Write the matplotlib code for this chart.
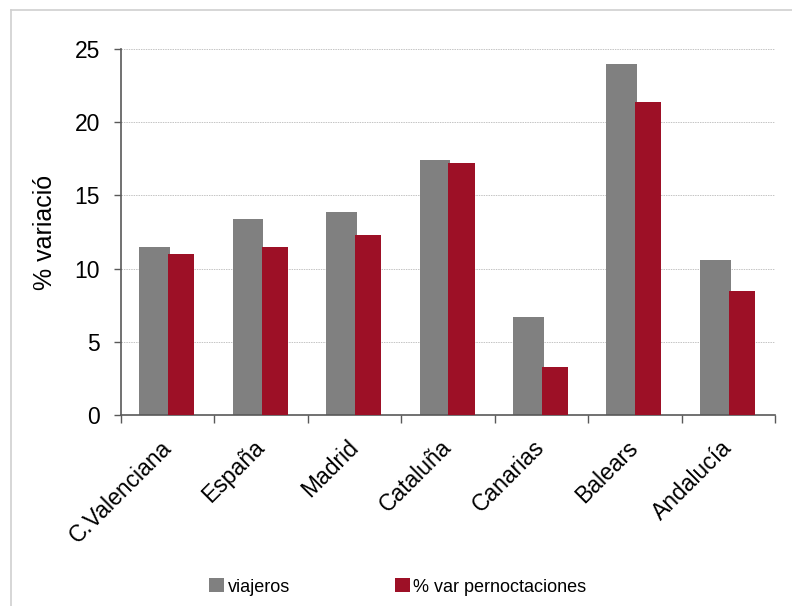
import matplotlib.pyplot as plt
import numpy as np
from matplotlib.patches import Patch
from matplotlib.lines import Line2D

plt.rcParams['font.family'] = ['Liberation Sans', 'DejaVu Sans']

categories = ['C.Valenciana', 'España', 'Madrid', 'Cataluña', 'Canarias', 'Balears', 'Andalucía']
viajeros = [11.5, 13.4, 13.9, 17.4, 6.7, 23.95, 10.6]
pernoctaciones = [11.0, 11.45, 12.3, 17.2, 3.3, 21.4, 8.5]

GREY = '#808080'
RED = '#9d1026'
AXC = '#595959'

fig = plt.figure(figsize=(7.92, 6.06), dpi=100)
ax = fig.add_axes([121 / 792, 1 - 415 / 606, 654 / 792, 366 / 606])

x = np.arange(len(categories))
ax.bar(x - 0.14, viajeros, width=0.33, color=GREY, zorder=2)
ax.bar(x + 0.145, pernoctaciones, width=0.28, color=RED, zorder=3)

ax.set_xlim(-0.5, len(categories) - 0.5)
ax.set_ylim(0, 25)
ax.set_yticks(np.arange(0, 26, 5))
ax.tick_params(axis='y', labelsize=16.5, length=5, width=1, color=AXC, pad=10)

ax.set_xticks(x)
ax.set_xticklabels(categories, rotation=45, ha='right', va='center',
                   rotation_mode='anchor', fontsize=16.5)
ax.tick_params(axis='x', which='major', length=0, pad=21)
ax.set_xticks(np.arange(-0.5, len(categories)), minor=True)
ax.tick_params(axis='x', which='minor', length=6, width=1, color=AXC)

ax.yaxis.grid(True, color='#c4c4c4', linestyle=(0, (1.5, 1)), linewidth=0.7)
ax.set_axisbelow(True)
for s in ['top', 'right']:
    ax.spines[s].set_visible(False)
for s in ['left', 'bottom']:
    ax.spines[s].set_color(AXC)
    ax.spines[s].set_linewidth(1.2)

ax.set_ylabel('% variació', fontsize=18, labelpad=13)

handles = [Patch(facecolor=GREY, label='viajeros'),
           Patch(facecolor=RED, label='% var pernoctaciones')]
fig.legend(handles=handles, loc='center', bbox_to_anchor=(398 / 792, 1 - 587 / 606),
           ncol=2, frameon=False, fontsize=13, handlelength=0.8, handleheight=0.8,
           handletextpad=0.2, columnspacing=5.85)

# outer chart border
fig.add_artist(Line2D([11 / 792, 1], [1 - 10 / 606] * 2, color='#d0d0d0', lw=1.2))
fig.add_artist(Line2D([11 / 792] * 2, [0, 1 - 10 / 606], color='#d0d0d0', lw=1.2))

plt.savefig('out.png', dpi=100)
